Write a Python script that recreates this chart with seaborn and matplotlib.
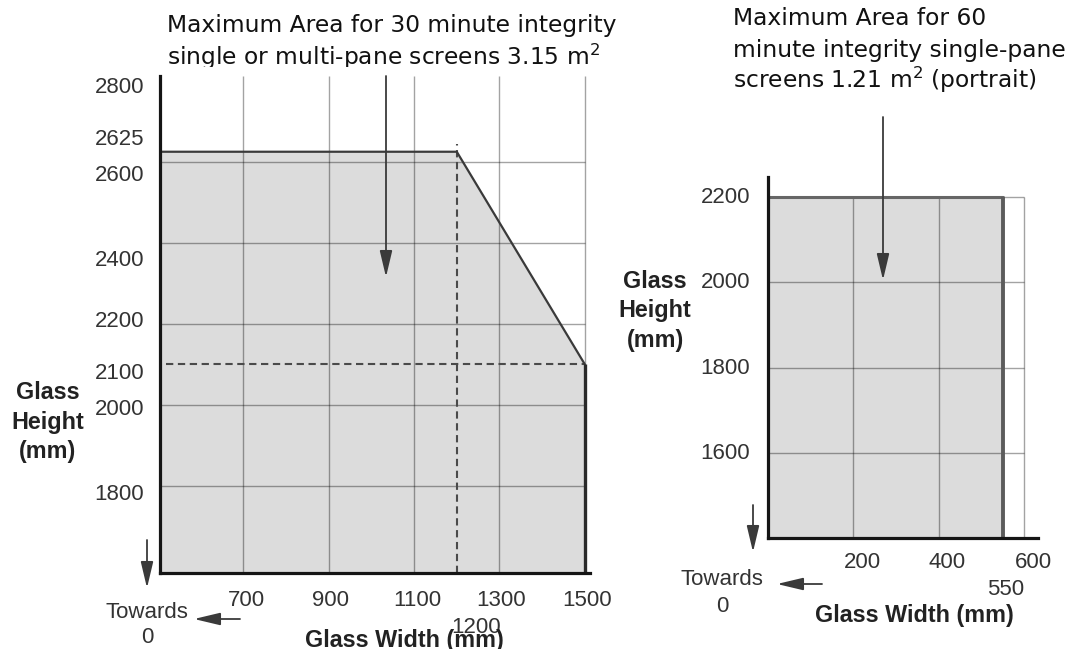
import matplotlib
matplotlib.use("Agg")
import matplotlib.pyplot as plt
import matplotlib.transforms as mtransforms
from matplotlib.patches import FancyArrowPatch
import seaborn as sns

# ---------------------- DATA ---------------------- #

# 30 minute integrity, single or multi-pane screens
width_30 = [505, 1200, 1500]
height_30 = [2625, 2625, 2100]
width_ticks_30 = [700, 900, 1100, 1200, 1300, 1500]
height_ticks_30 = [1800, 2000, 2100, 2200, 2400, 2600, 2625, 2800]
width_grid_30 = [700, 900, 1100, 1300, 1500]
height_grid_30 = [1800, 2000, 2200, 2400, 2600]
corner_width_30 = 1200
corner_height_30 = 2100

# 60 minute integrity, single-pane screens (portrait)
width_60 = [0, 550]
height_60 = [2200, 2200]
width_ticks_60 = [200, 400, 550, 600]
height_ticks_60 = [1600, 1800, 2000, 2200]
width_grid_60 = [200, 400, 600]
height_grid_60 = [1600, 1800, 2000]

# ---------------------- LAYOUT / STYLE ---------------------- #

W, H = 1066, 649
XLIM_30, YLIM_30 = (505, 1512), (1585, 2812)
XLIM_60, YLIM_60 = (0, 632), (1401, 2247)

FILL = "#dcdcdc"
GRID = dict(color="black", alpha=0.36, lw=1.0, zorder=2)
DASH = dict(color="#4a4a4a", lw=1.5, linestyles=[(0, (3.5, 2.2))], zorder=3)
TICK_COLOR = "#333333"

# hand-drawn tick label nudges (pixels, +y is down)
xshift_30 = {700: (3, 0), 900: (2, 0), 1100: (3, 0), 1200: (19, 27), 1300: (2, 0), 1500: (2, 0)}
yshift_30 = {2800: 4, 2625: -15, 2600: 11, 2400: 15, 2200: -5, 2100: 7, 2000: 2, 1800: 6}
xshift_60 = {200: (9, 0), 400: (8, 0), 550: (3, 27), 600: (9, 0)}
yshift_60 = {1600: -2, 1800: -2, 2000: -2, 2200: -2}

sns.set_theme(style="white")
plt.rcParams["font.family"] = ["Liberation Sans", "DejaVu Sans"]

fig = plt.figure(figsize=(W / 100, H / 100), dpi=100)
fig.patch.set_facecolor("white")


def box(left, top, right, bottom):
    return [left / W, 1 - bottom / H, (right - left) / W, (bottom - top) / H]


def fxy(x, y):
    return x / W, 1 - y / H


def style_axes(ax, xlim, ylim):
    ax.set_xlim(*xlim)
    ax.set_ylim(*ylim)
    ax.set_facecolor("none")
    for side in ["top", "right"]:
        ax.spines[side].set_visible(False)
    for side in ["left", "bottom"]:
        sp = ax.spines[side]
        sp.set_linewidth(2.3)
        sp.set_color("#151515")
        sp.set_capstyle("projecting")
        sp.set_zorder(6)
    ax.tick_params(length=0, labelsize=16, labelcolor=TICK_COLOR)


def nudge_labels(ax, xshift, yshift):
    for lab in ax.get_xticklabels():
        dx, dy = xshift.get(int(lab.get_text()), (0, 0))
        lab.set_transform(lab.get_transform() + mtransforms.ScaledTranslation(
            dx / fig.dpi, -dy / fig.dpi, fig.dpi_scale_trans))
    for lab in ax.get_yticklabels():
        dy = yshift.get(int(lab.get_text()), 0)
        lab.set_transform(lab.get_transform() + mtransforms.ScaledTranslation(
            0, -dy / fig.dpi, fig.dpi_scale_trans))


def arrow(x0, y0, x1, y1):
    fig.add_artist(FancyArrowPatch(
        fxy(x0, y0), fxy(x1, y1), transform=fig.transFigure,
        arrowstyle="-|>,head_length=1.6,head_width=0.38", mutation_scale=10,
        lw=1.3, color="#3a3a3a", shrinkA=0, shrinkB=0))


# ---------------------- 30 MINUTE CHART ---------------------- #

ax1 = fig.add_axes(box(160, 76, 590, 573))
style_axes(ax1, XLIM_30, YLIM_30)
ylo = YLIM_30[0]
ax1.fill_between(width_30, height_30, ylo, color=FILL, lw=0, zorder=1)
ax1.vlines(width_grid_30, ylo, YLIM_30[1], **GRID)
ax1.hlines(height_grid_30, XLIM_30[0], width_30[-1], **GRID)
sns.lineplot(x=width_30, y=height_30, ax=ax1, sort=False, color="#3a3a3a", lw=1.6, zorder=4)
ax1.vlines(width_30[-1], ylo, height_30[-1], color="#2a2a2a", lw=2.4, zorder=4)
ax1.vlines(corner_width_30, ylo, height_30[0] + 18, **DASH)
ax1.hlines(corner_height_30, XLIM_30[0] + 15, width_30[-1], **DASH)

ax1.set_xticks(width_ticks_30, [str(v) for v in width_ticks_30])
ax1.set_yticks(height_ticks_30, [str(v) for v in height_ticks_30])
ax1.tick_params(axis="x", pad=12)
ax1.tick_params(axis="y", pad=11.5)
nudge_labels(ax1, xshift_30, yshift_30)

ax1.set_xlabel("Glass Width (mm)", fontsize=16.8, fontweight="bold", color="#222222", va="baseline")
ax1.xaxis.set_label_coords((404 - 160) / 430, (573 - 647) / 497)
ax1.set_ylabel("Glass\nHeight\n(mm)", fontsize=16.8, fontweight="bold", color="#222222",
               rotation=0, ha="center", va="center", linespacing=1.38)
ax1.yaxis.set_label_coords((48 - 160) / 430, (573 - 422) / 497)

# ---------------------- 60 MINUTE CHART ---------------------- #

ax2 = fig.add_axes(box(768, 177, 1038, 538))
style_axes(ax2, XLIM_60, YLIM_60)
ylo2 = YLIM_60[0]
ax2.fill_between(width_60, height_60, ylo2, color=FILL, lw=0, zorder=1)
ax2.vlines(width_grid_60, ylo2, height_60[0], **GRID)
ax2.hlines(height_grid_60 + [height_60[0]], 0, width_grid_60[-1], **GRID)
sns.lineplot(x=width_60, y=height_60, ax=ax2, sort=False, color="#666666", lw=2.2, zorder=4)
ax2.vlines(width_60[-1], ylo2, height_60[-1], color="#5c5c5c", lw=2.8, zorder=4)

ax2.set_xticks(width_ticks_60, [str(v) for v in width_ticks_60])
ax2.set_yticks(height_ticks_60, [str(v) for v in height_ticks_60])
ax2.tick_params(axis="x", pad=10)
ax2.tick_params(axis="y", pad=13)
nudge_labels(ax2, xshift_60, yshift_60)

ax2.set_xlabel("Glass Width (mm)", fontsize=16.8, fontweight="bold", color="#222222", va="baseline")
ax2.xaxis.set_label_coords((914 - 768) / 270, (538 - 622) / 361)
ax2.set_ylabel("Glass\nHeight\n(mm)", fontsize=16.8, fontweight="bold", color="#222222",
               rotation=0, ha="center", va="center", linespacing=1.38)
ax2.yaxis.set_label_coords((655 - 768) / 270, (538 - 311) / 361)

# ---------------------- TITLES, NOTES, ARROWS ---------------------- #

title_kw = dict(family=["DejaVu Sans"], fontsize=16.8, color="#111111", ha="left", va="baseline")
fig.text(*fxy(167, 32), "Maximum Area for 30 minute integrity", **title_kw)
# second line is cut off by the top of the chart in the original
t = fig.text(*fxy(167, 65), "single or multi-pane screens 3.15 m$^2$", **title_kw)
t.set_clip_box(mtransforms.Bbox.from_extents(0, H - 67, W, H))
t.set_clip_on(True)

fig.text(*fxy(733, 25), "Maximum Area for 60", **title_kw)
fig.text(*fxy(733, 57), "minute integrity single-pane", **title_kw)
fig.text(*fxy(733, 88), "screens 1.21 m$^2$ (portrait)", **title_kw)

note_kw = dict(fontsize=16, color=TICK_COLOR, ha="center", va="baseline")
fig.text(*fxy(147, 618), "Towards", **note_kw)
fig.text(*fxy(147, 643), "0", **note_kw)
fig.text(*fxy(722, 585), "Towards", **note_kw)
fig.text(*fxy(722, 612), "0", **note_kw)

arrow(386, 76, 386, 277)
arrow(883, 117, 883, 280)
arrow(147, 540, 147, 588)
arrow(240, 619, 194, 619)
arrow(753, 505, 753, 552)
arrow(822, 584, 777, 584)

fig.savefig("out.png", dpi=100, facecolor="white")
